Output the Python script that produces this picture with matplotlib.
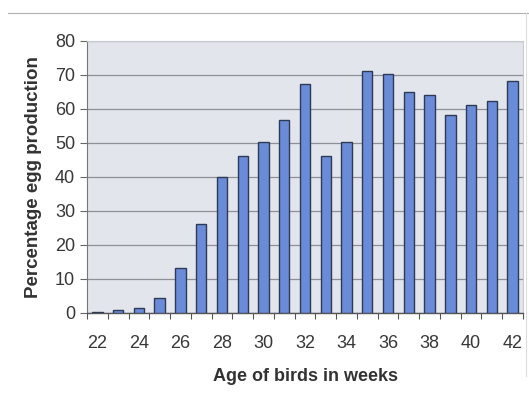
import matplotlib
matplotlib.use("Agg")
import matplotlib.pyplot as plt
from matplotlib.lines import Line2D
import numpy as np

weeks = list(range(22, 43))
egg_production = [0.3, 0.8, 1.4, 4.3, 13.1, 26.3, 40.1, 46.3, 50.2, 56.8, 67.3,
                  46.3, 50.2, 71.3, 70.3, 65.1, 64.2, 58.2, 61.1, 62.3, 68.1]
y_ticks = [0, 10, 20, 30, 40, 50, 60, 70, 80]

plt.rcParams['font.family'] = ['Liberation Sans', 'DejaVu Sans']

fig = plt.figure(figsize=(5.29, 3.96), dpi=100)
fig.patch.set_facecolor('white')
ax = fig.add_axes([0.1645, 0.2096, 0.8242, 0.6869])
ax.set_facecolor('#e3e5ec')

x = np.arange(len(weeks))
ax.bar(x, egg_production, width=0.5, color='#6a8cd8', edgecolor='#2c3a55',
       linewidth=1.0, zorder=3)

ax.set_ylim(0, 80)
ax.set_xlim(-0.5, len(weeks) - 0.5)
ax.set_yticks(y_ticks)
ax.yaxis.grid(True, color='#8e9096', linewidth=0.9, zorder=1)
ax.set_axisbelow(True)

ax.set_xticks(x[::2])
ax.set_xticklabels([str(w) for w in weeks[::2]])
ax.set_xticks(np.arange(-0.5, len(weeks), 1), minor=True)
ax.tick_params(axis='x', which='major', length=0, pad=15.5, labelsize=13,
               labelcolor='#383838')
ax.tick_params(axis='x', which='minor', length=4, color='#555555', width=0.8)
ax.tick_params(axis='y', length=5, color='#666666', pad=3.5, labelsize=13,
               labelcolor='#383838')

for s in ['top', 'right']:
    ax.spines[s].set_color('#c8cad0')
    ax.spines[s].set_linewidth(0.8)
ax.spines['left'].set_color('#777777')
ax.spines['left'].set_linewidth(0.8)
ax.spines['bottom'].set_color('#555555')
ax.spines['bottom'].set_linewidth(1.0)

ax.set_xlabel('Age of birds in weeks', fontsize=13, fontweight='bold',
              color='#333333', labelpad=12)
ax.set_ylabel('Percentage egg production', fontsize=13.5, fontweight='bold',
              color='#333333', labelpad=9)

# chart border lines
fig.add_artist(Line2D([0.015, 1.0], [1 - 13 / 396, 1 - 13 / 396],
                      transform=fig.transFigure, color='#b0b0b0', linewidth=0.8))
fig.add_artist(Line2D([1 - 3 / 529, 1 - 3 / 529], [0.05, 1 - 13 / 396],
                      transform=fig.transFigure, color='#dddddd', linewidth=0.8))

fig.savefig('out.png', dpi=100, facecolor='white')
